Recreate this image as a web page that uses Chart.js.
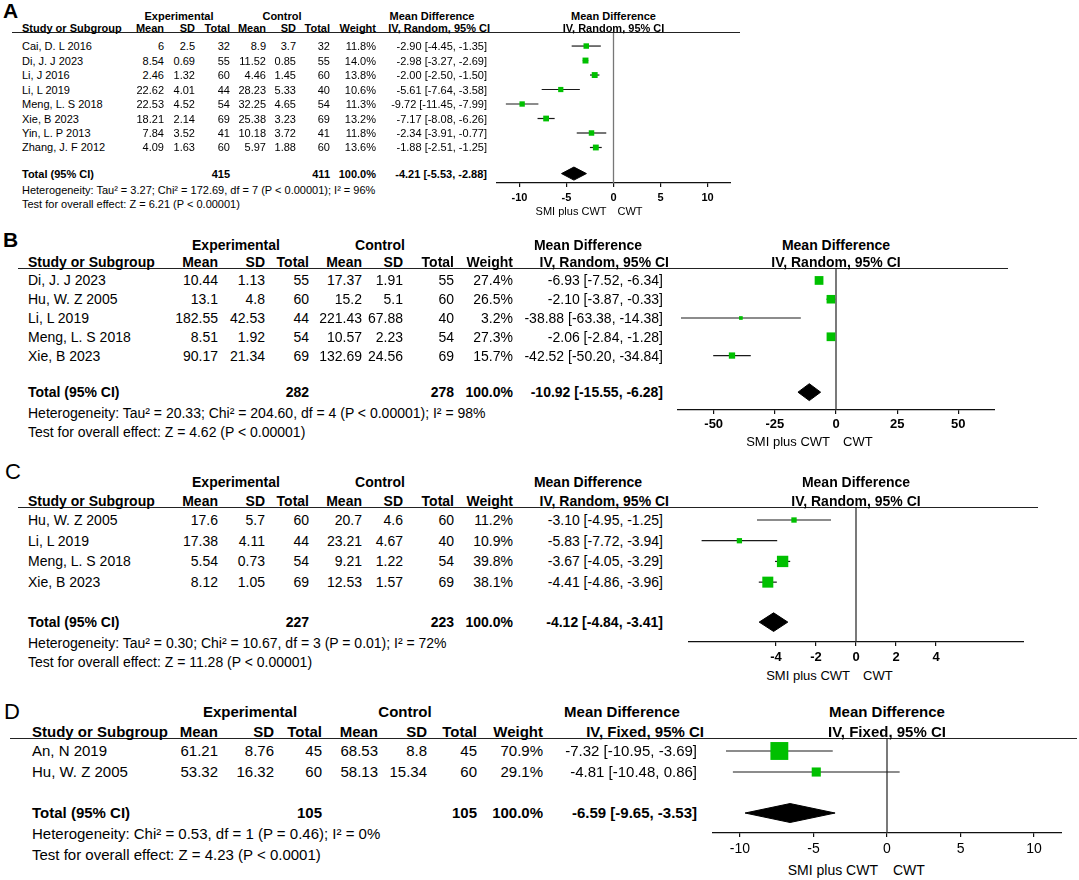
<!DOCTYPE html>
<html>
<head>
<meta charset="utf-8">
<script src="https://cdn.jsdelivr.net/npm/chart.js@4.4.1/dist/chart.umd.min.js"></script>
<style>
  html, body { margin: 0; padding: 0; background: #fff; }
  #fig { position: relative; width: 1079px; height: 880px; overflow: hidden;
         font-family: "Liberation Sans", Arial, sans-serif; color: #000; }
  #fig canvas { position: absolute; }
  .t { position: absolute; white-space: nowrap; line-height: 1.15; z-index: 2; }
  .rule { position: absolute; height: 0; border-top: 1.5px solid #222; z-index: 1; }
</style>
</head>
<body>
<div id="fig"></div>
<script>
// ---------- data: panel A ----------
const aStudies = ["Cai, D. L 2016", "Di, J. J 2023", "Li, J 2016", "Li, L 2019",
                  "Meng, L. S 2018", "Xie, B 2023", "Yin, L. P 2013", "Zhang, J. F 2012"];
const aExpMean = [6, 8.54, 2.46, 22.62, 22.53, 18.21, 7.84, 4.09];
const aExpSD   = [2.5, 0.69, 1.32, 4.01, 4.52, 2.14, 3.52, 1.63];
const aExpN    = [32, 55, 60, 44, 54, 69, 41, 60];
const aCtlMean = [8.9, 11.52, 4.46, 28.23, 32.25, 25.38, 10.18, 5.97];
const aCtlSD   = [3.7, 0.85, 1.45, 5.33, 4.65, 3.23, 3.72, 1.88];
const aCtlN    = [32, 55, 60, 40, 54, 69, 41, 60];
const aWeight  = [11.8, 14.0, 13.8, 10.6, 11.3, 13.2, 11.8, 13.6];
const aMD      = [-2.90, -2.98, -2.00, -5.61, -9.72, -7.17, -2.34, -1.88];
const aLow     = [-4.45, -3.27, -2.50, -7.64, -11.45, -8.08, -3.91, -2.51];
const aHigh    = [-1.35, -2.69, -1.50, -3.58, -7.99, -6.26, -0.77, -1.25];
const aTotalN  = [415, 411];
const aTotalMD = [-4.21, -5.53, -2.88];
const aHet  = "Heterogeneity: Tau² = 3.27; Chi² = 172.69, df = 7 (P < 0.00001); I² = 96%";
const aTest = "Test for overall effect: Z = 6.21 (P < 0.00001)";
const aTicks = [-10, -5, 0, 5, 10];

// ---------- data: panel B ----------
const bStudies = ["Di, J. J 2023", "Hu, W. Z 2005", "Li, L 2019", "Meng, L. S 2018", "Xie, B 2023"];
const bExpMean = [10.44, 13.1, 182.55, 8.51, 90.17];
const bExpSD   = [1.13, 4.8, 42.53, 1.92, 21.34];
const bExpN    = [55, 60, 44, 54, 69];
const bCtlMean = [17.37, 15.2, 221.43, 10.57, 132.69];
const bCtlSD   = [1.91, 5.1, 67.88, 2.23, 24.56];
const bCtlN    = [55, 60, 40, 54, 69];
const bWeight  = [27.4, 26.5, 3.2, 27.3, 15.7];
const bMD      = [-6.93, -2.10, -38.88, -2.06, -42.52];
const bLow     = [-7.52, -3.87, -63.38, -2.84, -50.20];
const bHigh    = [-6.34, -0.33, -14.38, -1.28, -34.84];
const bTotalN  = [282, 278];
const bTotalMD = [-10.92, -15.55, -6.28];
const bHet  = "Heterogeneity: Tau² = 20.33; Chi² = 204.60, df = 4 (P < 0.00001); I² = 98%";
const bTest = "Test for overall effect: Z = 4.62 (P < 0.00001)";
const bTicks = [-50, -25, 0, 25, 50];

// ---------- data: panel C ----------
const cStudies = ["Hu, W. Z 2005", "Li, L 2019", "Meng, L. S 2018", "Xie, B 2023"];
const cExpMean = [17.6, 17.38, 5.54, 8.12];
const cExpSD   = [5.7, 4.11, 0.73, 1.05];
const cExpN    = [60, 44, 54, 69];
const cCtlMean = [20.7, 23.21, 9.21, 12.53];
const cCtlSD   = [4.6, 4.67, 1.22, 1.57];
const cCtlN    = [60, 40, 54, 69];
const cWeight  = [11.2, 10.9, 39.8, 38.1];
const cMD      = [-3.10, -5.83, -3.67, -4.41];
const cLow     = [-4.95, -7.72, -4.05, -4.86];
const cHigh    = [-1.25, -3.94, -3.29, -3.96];
const cTotalN  = [227, 223];
const cTotalMD = [-4.12, -4.84, -3.41];
const cHet  = "Heterogeneity: Tau² = 0.30; Chi² = 10.67, df = 3 (P = 0.01); I² = 72%";
const cTest = "Test for overall effect: Z = 11.28 (P < 0.00001)";
const cTicks = [-4, -2, 0, 2, 4];

// ---------- data: panel D ----------
const dStudies = ["An, N 2019", "Hu, W. Z 2005"];
const dExpMean = [61.21, 53.32];
const dExpSD   = [8.76, 16.32];
const dExpN    = [45, 60];
const dCtlMean = [68.53, 58.13];
const dCtlSD   = [8.8, 15.34];
const dCtlN    = [45, 60];
const dWeight  = [70.9, 29.1];
const dMD      = [-7.32, -4.81];
const dLow     = [-10.95, -10.48];
const dHigh    = [-3.69, 0.86];
const dTotalN  = [105, 105];
const dTotalMD = [-6.59, -9.65, -3.53];
const dHet  = "Heterogeneity: Chi² = 0.53, df = 1 (P = 0.46); I² = 0%";
const dTest = "Test for overall effect: Z = 4.23 (P < 0.0001)";
const dTicks = [-10, -5, 0, 5, 10];

const favours = ["SMI plus CWT", "CWT"];
const colHeads = ["Mean", "SD", "Total", "Mean", "SD", "Total", "Weight"];

const FONT = '"Liberation Sans", Arial, sans-serif';
const GREEN = "#00c000";
const fig = document.getElementById("fig");

function txt(x, y, s, size, opts = {}) {
    const d = document.createElement("div");
    d.className = "t";
    d.textContent = s;
    d.style.left = x + "px";
    d.style.top = y + "px";
    d.style.fontSize = size + "px";
    if (opts.bold) d.style.fontWeight = "bold";
    const ax = opts.align === "right" ? "-100%" : opts.align === "center" ? "-50%" : "0";
    d.style.transform = `translate(${ax}, -50%)`;
    fig.appendChild(d);
    return d;
}

function rule(x1, x2, y) {
    const r = document.createElement("div");
    r.className = "rule";
    r.style.left = x1 + "px";
    r.style.width = (x2 - x1) + "px";
    r.style.top = (y - 0.75) + "px";
    fig.appendChild(r);
}

const f2 = v => v.toFixed(2);
const ciText = (m, l, h) => `${f2(m)} [${f2(l)}, ${f2(h)}]`;
// square side grows with the study weight
const squareSide = w => 3 + 0.21 * w;

function drawPanel(d, L) {
    const n = d.studies.length;
    const rowVal = i => i + 1;
    const totVal = n + L.totalGap;
    const yMin = 1 - L.topGap;
    const yMax = totVal + L.bottomGap;

    const cv = document.createElement("canvas");
    const w = L.axisRight - L.axisLeft;
    const h = L.axisY - L.lineY + L.axisH;
    cv.width = w; cv.height = h;
    cv.style.left = L.axisLeft + "px";
    cv.style.top = L.lineY + "px";
    cv.style.width = w + "px";
    cv.style.height = h + "px";
    fig.appendChild(cv);

    const datasets = [];
    datasets.push({
        data: d.md.map((m, i) => ({ x: m, y: rowVal(i) })),
        pointStyle: "rect",
        pointRadius: ctx => squareSide(d.weight[ctx.dataIndex]) / (2 * Math.SQRT1_2),
        backgroundColor: GREEN, borderWidth: 0, order: 0, clip: false
    });
    d.md.forEach((m, i) => {
        datasets.push({
            data: [{ x: d.low[i], y: rowVal(i) }, { x: d.high[i], y: rowVal(i) }],
            showLine: true, borderColor: "#1a1a1a", borderWidth: 1.2,
            pointRadius: 0, order: 1
        });
    });
    const [tm, tl, th] = d.totalMD;
    datasets.push({
        data: [{ x: tl, y: totVal }, { x: tm, y: totVal - L.dia }, { x: th, y: totVal },
               { x: tm, y: totVal + L.dia }, { x: tl, y: totVal }],
        showLine: true, fill: "shape", backgroundColor: "#000", borderColor: "#000",
        borderWidth: 1, pointRadius: 0, order: 2
    });
    datasets.push({
        data: [{ x: 0, y: yMin }, { x: 0, y: yMax }],
        showLine: true, borderColor: L.zeroColor, borderWidth: 1.3,
        pointRadius: 0, order: 3, clip: false
    });

    const chart = new Chart(cv, {
        type: "scatter",
        data: { datasets },
        options: {
            responsive: false,
            animation: false,
            events: [],
            layout: { padding: 0, autoPadding: false },
            plugins: { legend: { display: false }, tooltip: { enabled: false } },
            scales: {
                x: {
                    type: "linear", min: -L.range, max: L.range,
                    afterBuildTicks: s => { s.ticks = d.ticks.map(v => ({ value: v })); },
                    afterFit: s => { s.height = L.axisH; },
                    grid: { drawOnChartArea: false, drawTicks: true, tickLength: 4,
                            color: "#111", lineWidth: 1.2 },
                    border: { display: true, color: "#111", width: 1.3 },
                    ticks: {
                        color: "#000", padding: L.tickPad, autoSkip: false, maxRotation: 0,
                        font: { family: FONT, size: L.tickSize, weight: L.tickBold ? "bold" : "normal" },
                        callback: v => String(v)
                    }
                },
                y: { type: "linear", display: false, reverse: true, min: yMin, max: yMax }
            }
        }
    });

    const ys = chart.scales.y, xs = chart.scales.x;
    const py = v => L.lineY + ys.getPixelForValue(v);
    const px0 = L.axisLeft + xs.getPixelForValue(0);
    const fs = L.fs;

    // headers
    txt(L.letterX, L.letterY, d.letter, L.letterSize, { bold: L.letterBold });
    txt(L.grp[0], L.hdr1Y, "Experimental", fs, { bold: true, align: "center" });
    txt(L.grp[1], L.hdr1Y, "Control", fs, { bold: true, align: "center" });
    txt(L.grp[2], L.hdr1Y, "Mean Difference", fs, { bold: true, align: "center" });
    txt(L.textLeft, L.hdr2Y, "Study or Subgroup", fs, { bold: true });
    colHeads.forEach((c, j) => txt(L.cols[j], L.hdr2Y, c, fs, { bold: true, align: "right" }));
    txt(L.methodRight, L.hdr2Y, d.method, fs, { bold: true, align: "right" });
    txt(px0, L.hdr1Y, "Mean Difference", fs, { bold: true, align: "center" });
    txt(px0, L.hdr2Y, d.method, fs, { bold: true, align: "center" });
    rule(L.ruleLeft, L.ruleRight, L.lineY);

    // study rows
    d.studies.forEach((s, i) => {
        const y = py(rowVal(i));
        txt(L.textLeft, y, s, fs);
        [d.expMean[i], d.expSD[i], d.expN[i], d.ctlMean[i], d.ctlSD[i], d.ctlN[i]]
            .forEach((c, j) => txt(L.cols[j], y, String(c), fs, { align: "right" }));
        txt(L.cols[6], y, d.weight[i].toFixed(1) + "%", fs, { align: "right" });
        txt(L.cols[7], y, ciText(d.md[i], d.low[i], d.high[i]), fs, { align: "right" });
    });

    // total row + statistics
    const ty = py(totVal);
    txt(L.textLeft, ty, "Total (95% CI)", fs, { bold: true });
    txt(L.cols[2], ty, String(d.totalN[0]), fs, { bold: true, align: "right" });
    txt(L.cols[5], ty, String(d.totalN[1]), fs, { bold: true, align: "right" });
    txt(L.cols[6], ty, "100.0%", fs, { bold: true, align: "right" });
    txt(L.cols[7], ty, ciText(tm, tl, th), fs, { bold: true, align: "right" });
    txt(L.textLeft, ty + L.hetOff[0], d.het, fs);
    txt(L.textLeft, ty + L.hetOff[1], d.test, fs);

    // favours labels under the axis
    txt(px0 - L.favGap[0], L.axisY + L.favOff, favours[0], L.tickSize, { align: "right" });
    txt(px0 + L.favGap[1], L.axisY + L.favOff, favours[1], L.tickSize);
}

const common = { axisH: 24 };

drawPanel(
    { letter: "A", studies: aStudies, expMean: aExpMean, expSD: aExpSD, expN: aExpN,
      ctlMean: aCtlMean, ctlSD: aCtlSD, ctlN: aCtlN, weight: aWeight, md: aMD, low: aLow, high: aHigh,
      totalN: aTotalN, totalMD: aTotalMD, het: aHet, test: aTest, ticks: aTicks,
      method: "IV, Random, 95% CI" },
    { ...common, letterX: 3, letterY: 11, letterSize: 21, letterBold: true,
      lineY: 33, axisY: 183, axisLeft: 496, axisRight: 731, range: 12.5,
      hdr1Y: 15.5, hdr2Y: 28, fs: 11, textLeft: 22,
      cols: [164, 195, 230, 266, 296, 330, 376, 487], grp: [179, 282, 432], methodRight: 490,
      topGap: 0.9, totalGap: 1.8, bottomGap: 0.65, hetOff: [16, 30], dia: 0.45,
      tickSize: 11, tickBold: true, tickPad: 4, favOff: 28, favGap: [7, 4],
      ruleLeft: 12, ruleRight: 740, zeroColor: "#777" });

drawPanel(
    { letter: "B", studies: bStudies, expMean: bExpMean, expSD: bExpSD, expN: bExpN,
      ctlMean: bCtlMean, ctlSD: bCtlSD, ctlN: bCtlN, weight: bWeight, md: bMD, low: bLow, high: bHigh,
      totalN: bTotalN, totalMD: bTotalMD, het: bHet, test: bTest, ticks: bTicks,
      method: "IV, Random, 95% CI" },
    { ...common, letterX: 3, letterY: 240, letterSize: 21, letterBold: true,
      lineY: 269, axisY: 410, axisLeft: 677, axisRight: 995, range: 65,
      hdr1Y: 245, hdr2Y: 262, fs: 14, textLeft: 28,
      cols: [218, 265, 309, 362, 403, 454, 513, 663], grp: [236, 380, 588], methodRight: 669,
      topGap: 0.61, totalGap: 1.95, bottomGap: 0.95, hetOff: [21, 40], dia: 0.45,
      tickSize: 13, tickBold: true, tickPad: 3, favOff: 32, favGap: [6, 7],
      ruleLeft: 18, ruleRight: 1008, zeroColor: "#333" });

drawPanel(
    { letter: "C", studies: cStudies, expMean: cExpMean, expSD: cExpSD, expN: cExpN,
      ctlMean: cCtlMean, ctlSD: cCtlSD, ctlN: cCtlN, weight: cWeight, md: cMD, low: cLow, high: cHigh,
      totalN: cTotalN, totalMD: cTotalMD, het: cHet, test: cTest, ticks: cTicks,
      method: "IV, Random, 95% CI" },
    { ...common, letterX: 5, letterY: 472, letterSize: 22, letterBold: false,
      lineY: 508, axisY: 642, axisLeft: 688, axisRight: 1024, range: 8.4,
      hdr1Y: 482, hdr2Y: 501, fs: 14, textLeft: 28,
      cols: [218, 265, 309, 362, 403, 454, 513, 663], grp: [236, 380, 588], methodRight: 669,
      topGap: 0.58, totalGap: 1.93, bottomGap: 0.96, hetOff: [21, 40], dia: 0.45,
      tickSize: 13, tickBold: true, tickPad: 4, favOff: 34, favGap: [6, 7],
      ruleLeft: 18, ruleRight: 1038, zeroColor: "#333" });

drawPanel(
    { letter: "D", studies: dStudies, expMean: dExpMean, expSD: dExpSD, expN: dExpN,
      ctlMean: dCtlMean, ctlSD: dCtlSD, ctlN: dCtlN, weight: dWeight, md: dMD, low: dLow, high: dHigh,
      totalN: dTotalN, totalMD: dTotalMD, het: dHet, test: dTest, ticks: dTicks,
      method: "IV, Fixed, 95% CI" },
    { ...common, letterX: 4, letterY: 712, letterSize: 22, letterBold: false,
      lineY: 739, axisY: 833, axisLeft: 712, axisRight: 1062, range: 11.9,
      hdr1Y: 712, hdr2Y: 732, fs: 15, textLeft: 32,
      cols: [218, 274, 322, 378, 427, 477, 543, 697], grp: [250, 405, 622], methodRight: 704,
      topGap: 0.57, totalGap: 1.95, bottomGap: 0.95, hetOff: [21, 42], dia: 0.45,
      tickSize: 14, tickBold: false, tickPad: 4, favOff: 37, favGap: [9, 6],
      ruleLeft: 10, ruleRight: 1077, zeroColor: "#333" });
</script>
</body>
</html>
